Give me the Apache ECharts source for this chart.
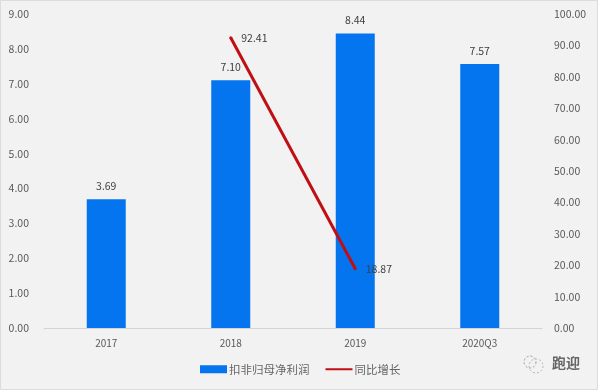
<!DOCTYPE html>
<html>
<head>
<meta charset="utf-8">
<style>
  html, body { margin: 0; padding: 0; background: #f2f2f2; }
  #chart { width: 598px; height: 390px; }
</style>
<script src="https://cdn.jsdelivr.net/npm/echarts@6/dist/echarts.min.js"></script>
</head>
<body>
<div id="chart"></div>
<script>
const categories = ['2017', '2018', '2019', '2020Q3'];
const profitValues = [3.69, 7.10, 8.44, 7.57];
const growthValues = [null, 92.41, 18.87, null];
const fontFamily = '"Noto Sans CJK SC", "Open Sans", sans-serif';

const chart = echarts.init(document.getElementById('chart'));

const option = {
  backgroundColor: '#f2f2f2',
  animation: false,
  textStyle: { fontFamily: fontFamily },
  grid: { left: 44, right: 56, top: 14, bottom: 62 },
  legend: {
    bottom: 10,
    left: 195,
    itemGap: 15,
    itemWidth: 27,
    itemHeight: 8,
    textStyle: { color: '#666', fontSize: 11.5, padding: [0, 0, 0, -3] },
    data: [
      { name: '扣非归母净利润', icon: 'rect' },
      { name: '同比增长', itemStyle: { opacity: 0 } }
    ]
  },
  xAxis: {
    type: 'category',
    data: categories,
    axisLine: { lineStyle: { color: '#d4d4d4' } },
    axisTick: { show: false },
    axisLabel: { color: '#595959', fontSize: 10, margin: 10 }
  },
  yAxis: [
    {
      type: 'value',
      min: 0,
      max: 9,
      interval: 1,
      axisLine: { show: false },
      axisTick: { show: false },
      splitLine: { show: false },
      axisLabel: { color: '#595959', fontSize: 10.5, margin: 15, formatter: v => v.toFixed(2) }
    },
    {
      type: 'value',
      min: 0,
      max: 100,
      interval: 10,
      axisLine: { show: false },
      axisTick: { show: false },
      splitLine: { show: false },
      axisLabel: { color: '#595959', fontSize: 10.5, margin: 12, formatter: v => v.toFixed(2) }
    }
  ],
  series: [
    {
      name: '扣非归母净利润',
      type: 'bar',
      barWidth: 39,
      data: profitValues,
      itemStyle: { color: '#0475ee' },
      label: {
        show: true,
        position: 'top',
        distance: 8,
        color: '#404040',
        fontSize: 10.5,
        formatter: p => p.value.toFixed(2)
      }
    },
    {
      name: '同比增长',
      type: 'line',
      yAxisIndex: 1,
      data: growthValues,
      symbol: 'circle',
      symbolSize: 3,
      showSymbol: true,
      connectNulls: false,
      lineStyle: { color: '#c00f14', width: 3 },
      itemStyle: { color: '#c00f14' },
      label: {
        show: true,
        position: 'right',
        distance: 9,
        color: '#404040',
        fontSize: 10.5,
        formatter: p => p.value.toFixed(2)
      },
      z: 5
    }
  ],
  graphic: [
    {
      type: 'rect',
      silent: true,
      shape: { x: 0.5, y: 0.5, width: 597, height: 389 },
      style: { fill: 'none', stroke: '#dcdcdc', lineWidth: 1 }
    },
    {
      type: 'circle',
      silent: true,
      shape: { cx: 530, cy: 362, r: 6 },
      style: { fill: 'none', stroke: '#9a9a9a', lineWidth: 1, lineDash: [2, 2] }
    },
    {
      type: 'circle',
      silent: true,
      shape: { cx: 536, cy: 366, r: 7 },
      style: { fill: 'none', stroke: '#b5b5b5', lineWidth: 1, lineDash: [2, 2] }
    },
    {
      type: 'text',
      silent: true,
      left: 552,
      top: 356,
      style: { text: '跑迎', fill: '#666', font: 'bold 14px "Noto Sans CJK SC"' }
    }
  ]
};

chart.setOption(option);
</script>
</body>
</html>
